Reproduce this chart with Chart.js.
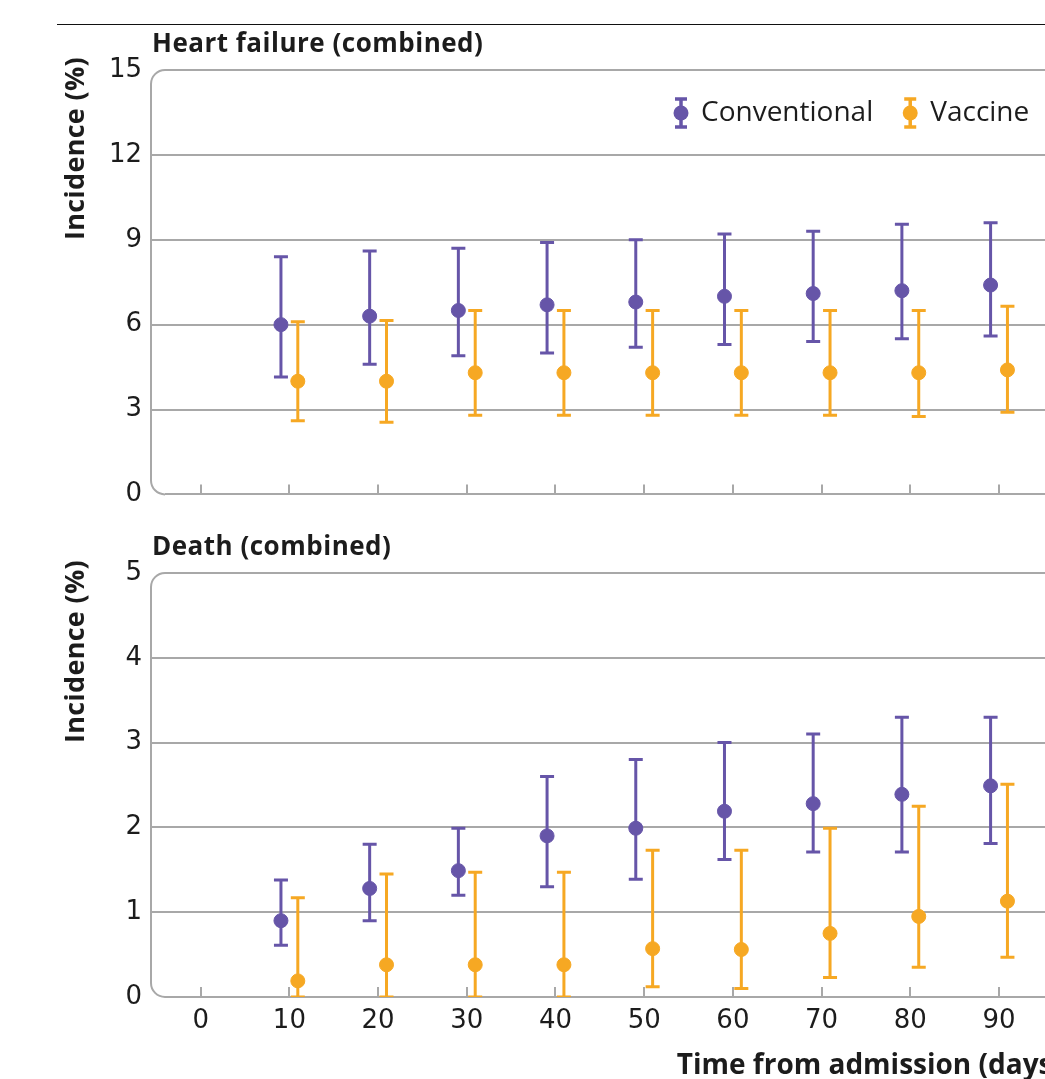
<!DOCTYPE html>
<html>
<head>
<meta charset="utf-8">
<script src="https://cdn.jsdelivr.net/npm/chart.js@4.4.0/dist/chart.umd.min.js"></script>
<style>
  html, body { margin: 0; padding: 0; background: #fff; overflow: hidden; }
  body { width: 1045px; height: 1079px; position: relative; }
  .rule { position: absolute; left: 57px; right: 0; top: 24px; height: 1px; background: #111; }
  .panel { position: absolute; left: 0; width: 1070px; }
  #top { top: 30px; height: 489px; }
  #bottom { top: 530px; height: 553px; }
</style>
</head>
<body>
<div class="rule"></div>
<div class="panel" id="top"><canvas id="hf"></canvas></div>
<div class="panel" id="bottom"><canvas id="death"></canvas></div>
<script>
// days after admission where both groups were measured
const days = [10, 20, 30, 40, 50, 60, 70, 80, 90];
const dayTicks = [0, 10, 20, 30, 40, 50, 60, 70, 80, 90];

// Heart failure (combined), incidence % with 95% CI
const hfConv   = [6.0, 6.3, 6.5, 6.7, 6.8, 7.0, 7.1, 7.2, 7.4];
const hfConvLo = [4.15, 4.6, 4.9, 5.0, 5.2, 5.3, 5.4, 5.5, 5.6];
const hfConvHi = [8.4, 8.6, 8.7, 8.9, 9.0, 9.2, 9.3, 9.55, 9.6];
const hfVacc   = [4.0, 4.0, 4.3, 4.3, 4.3, 4.3, 4.3, 4.3, 4.4];
const hfVaccLo = [2.6, 2.55, 2.8, 2.8, 2.8, 2.8, 2.8, 2.75, 2.9];
const hfVaccHi = [6.1, 6.15, 6.5, 6.5, 6.5, 6.5, 6.5, 6.5, 6.65];
const hfTicks  = [0, 3, 6, 9, 12, 15];

// Death (combined)
const dConv   = [0.9, 1.28, 1.49, 1.9, 1.99, 2.19, 2.28, 2.39, 2.49];
const dConvLo = [0.61, 0.9, 1.2, 1.3, 1.39, 1.62, 1.71, 1.71, 1.81];
const dConvHi = [1.38, 1.8, 1.99, 2.6, 2.8, 3.0, 3.1, 3.3, 3.3];
const dVacc   = [0.19, 0.38, 0.38, 0.38, 0.57, 0.56, 0.75, 0.95, 1.13];
const dVaccLo = [0, 0, 0, 0, 0.12, 0.1, 0.23, 0.35, 0.47];
const dVaccHi = [1.17, 1.45, 1.47, 1.47, 1.73, 1.73, 1.99, 2.25, 2.51];
const dTicks  = [0, 1, 2, 3, 4, 5];

const PURPLE = '#6655a8';
const ORANGE = '#f6a823';
const GRID = '#a8a8a8';
const INK = '#1c1c1c';
const FONT = "'Open Sans', 'DejaVu Sans', sans-serif";
const NUM_FONT = "'DejaVu Sans', sans-serif";

// the two groups sit a little either side of each day
const SHIFT = 0.95;

function points(vals, lo, hi, shift) {
  return days.map((d, i) => ({ x: d + shift, y: vals[i], lo: lo[i], hi: hi[i] }));
}

// whiskers with caps, drawn through the chart's own scales
const errorBars = {
  id: 'errorBars',
  beforeDatasetsDraw(chart) {
    const { ctx, chartArea, scales: { x, y } } = chart;
    ctx.save();
    ctx.beginPath();
    ctx.rect(chartArea.left, chartArea.top - 10, chartArea.right - chartArea.left, chartArea.bottom - chartArea.top + 10);
    ctx.clip();
    chart.data.datasets.forEach(ds => {
      ctx.strokeStyle = ds.borderColor;
      ctx.lineWidth = 3;
      ds.data.forEach(p => {
        const px = x.getPixelForValue(p.x);
        const t = y.getPixelForValue(p.hi);
        const b = y.getPixelForValue(p.lo);
        ctx.beginPath();
        ctx.moveTo(px, t); ctx.lineTo(px, b);
        ctx.moveTo(px - 7, t); ctx.lineTo(px + 7, t);
        ctx.moveTo(px - 7, b); ctx.lineTo(px + 7, b);
        ctx.stroke();
      });
    });
    ctx.restore();
  }
};

// left axis line with rounded corners, like the printed figure
const frame = {
  id: 'frame',
  beforeDatasetsDraw(chart) {
    const { ctx, chartArea: { left, top, bottom } } = chart;
    const r = 14;
    ctx.save();
    ctx.fillStyle = '#fff';
    ctx.fillRect(left - 3, top - 3, r + 3, r + 3);
    ctx.fillRect(left - 3, bottom - r, r + 3, r + 3);
    ctx.strokeStyle = GRID;
    ctx.lineWidth = 2;
    ctx.beginPath();
    ctx.moveTo(left + r, top);
    ctx.arcTo(left, top, left, top + r, r);
    ctx.lineTo(left, bottom - r);
    ctx.arcTo(left, bottom, left + r, bottom, r);
    ctx.stroke();
    ctx.restore();
  }
};

// panel heading above the plot and the y title running up beside it
const panelTitle = {
  id: 'panelTitle',
  afterDraw(chart, args, opts) {
    const { ctx, chartArea } = chart;
    ctx.save();
    ctx.fillStyle = INK;
    ctx.textBaseline = 'middle';
    ctx.font = "bold 26px " + FONT;
    ctx.letterSpacing = '0.5px';
    ctx.fillText(opts.text, chartArea.left + 1, chartArea.top - 25);

    ctx.font = "bold 27px " + FONT;
    ctx.letterSpacing = '0.3px';
    ctx.translate(76, chartArea.top + 170);
    ctx.rotate(-Math.PI / 2);
    ctx.textAlign = 'left';
    ctx.fillText(opts.yTitle, 0, 0);
    ctx.restore();
  }
};

// legend inside the top plot, icons are little error bars
const barLegend = {
  id: 'barLegend',
  afterDraw(chart, args, opts) {
    if (!opts.show) return;
    const { ctx, chartArea } = chart;
    ctx.save();
    ctx.font = "28px " + FONT;
    ctx.textBaseline = 'middle';
    let x = chartArea.left + 530;
    const y = chartArea.top + 43;
    chart.data.datasets.forEach(ds => {
      ctx.strokeStyle = ds.borderColor;
      ctx.fillStyle = ds.borderColor;
      ctx.lineWidth = 3.5;
      ctx.beginPath();
      ctx.moveTo(x, y - 14); ctx.lineTo(x, y + 14);
      ctx.moveTo(x - 6, y - 14); ctx.lineTo(x + 6, y - 14);
      ctx.moveTo(x - 6, y + 14); ctx.lineTo(x + 6, y + 14);
      ctx.stroke();
      ctx.beginPath();
      ctx.arc(x, y, 7.5, 0, Math.PI * 2);
      ctx.fill();
      ctx.fillStyle = INK;
      ctx.fillText(ds.label, x + 20, y);
      x += 20 + ctx.measureText(ds.label).width + 37;
    });
    ctx.restore();
  }
};

function makeChart(id, cfg) {
  const datasets = [
    {
      label: 'Conventional',
      data: points(cfg.conv, cfg.convLo, cfg.convHi, -SHIFT),
      borderColor: PURPLE, backgroundColor: PURPLE,
      pointRadius: 7, pointHoverRadius: 7, showLine: false
    },
    {
      label: 'Vaccine',
      data: points(cfg.vacc, cfg.vaccLo, cfg.vaccHi, SHIFT),
      borderColor: ORANGE, backgroundColor: ORANGE,
      pointRadius: 7, pointHoverRadius: 7, showLine: false
    }
  ];

  return new Chart(document.getElementById(id), {
    type: 'scatter',
    data: { datasets },
    plugins: [frame, errorBars, panelTitle, barLegend],
    options: {
      responsive: true,
      maintainAspectRatio: false,
      animation: false,
      layout: { padding: { left: 48, top: cfg.padTop, right: 0, bottom: 0 } },
      plugins: {
        legend: { display: false },
        tooltip: { enabled: false },
        panelTitle: { text: cfg.title, yTitle: 'Incidence (%)' },
        barLegend: { show: cfg.legend }
      },
      scales: {
        x: {
          type: 'linear',
          min: -5.6,
          max: 97.1,
          afterBuildTicks: s => { s.ticks = dayTicks.map(v => ({ value: v })); },
          afterFit: s => { s.height = cfg.xHeight; },
          grid: { drawOnChartArea: false, drawTicks: true, tickLength: -10, color: GRID, lineWidth: 2 },
          border: { display: false },
          ticks: {
            display: cfg.xLabels,
            color: INK,
            padding: 19,
            font: { family: NUM_FONT, size: 26 },
            maxRotation: 0
          },
          title: {
            display: cfg.xLabels,
            text: 'Time from admission (days)',
            align: 'end',
            color: INK,
            font: { family: FONT, size: 28, weight: 'bold' },
            padding: { top: 4, bottom: 0 }
          }
        },
        y: {
          min: 0,
          max: cfg.yTicks[cfg.yTicks.length - 1],
          afterBuildTicks: s => { s.ticks = cfg.yTicks.map(v => ({ value: v })); },
          afterFit: s => { s.width = 103; },
          grid: { color: GRID, lineWidth: 2, drawTicks: false },
          border: { display: false },
          ticks: {
            color: INK,
            padding: 9,
            font: { family: NUM_FONT, size: 26 }
          },
          title: { display: false }
        }
      }
    }
  });
}

makeChart('hf', {
  title: 'Heart failure (combined)',
  conv: hfConv, convLo: hfConvLo, convHi: hfConvHi,
  vacc: hfVacc, vaccLo: hfVaccLo, vaccHi: hfVaccHi,
  yTicks: hfTicks, padTop: 40, xHeight: 8, xLabels: false, legend: true
});

makeChart('death', {
  title: 'Death (combined)',
  conv: dConv, convLo: dConvLo, convHi: dConvHi,
  vacc: dVacc, vaccLo: dVaccLo, vaccHi: dVaccHi,
  yTicks: dTicks, padTop: 43, xHeight: 86, xLabels: true, legend: false
});
</script>
</body>
</html>
